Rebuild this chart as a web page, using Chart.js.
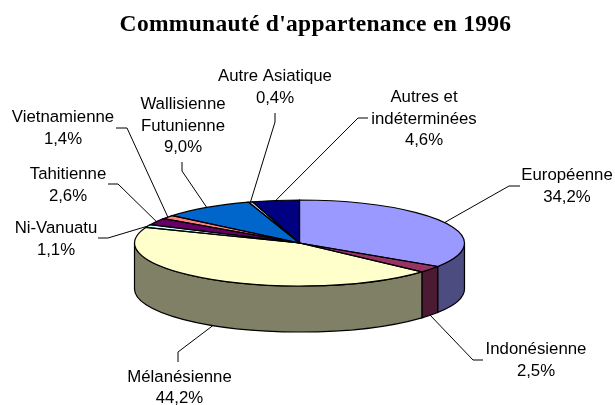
<!DOCTYPE html>
<html>
<head>
<meta charset="utf-8">
<title>Communauté d'appartenance en 1996</title>
<script src="https://cdn.jsdelivr.net/npm/chart.js@4"></script>
<style>
  html, body { margin: 0; padding: 0; background: #fff; }
  #wrap { position: relative; width: 615px; height: 405px; }
</style>
</head>
<body>
<div id="wrap"><canvas id="chart" width="615" height="405"></canvas></div>
<script>
  'use strict';

  const chartTitle = "Communauté d'appartenance en 1996";
  const categories = ['Européenne', 'Indonésienne', 'Mélanésienne', 'Ni-Vanuatu', 'Tahitienne', 'Vietnamienne', 'Wallisienne Futunienne', 'Autre Asiatique', 'Autres et indéterminées'];
  const shares = [34.2, 2.5, 44.2, 1.1, 2.6, 1.4, 9.0, 0.4, 4.6];
  const topColors = ['#9999ff', '#993366', '#ffffcc', '#ccffff', '#660066', '#ff8080', '#0066cc', '#ccccff', '#000080'];
  const wallColors = ['#4c4c80', '#4c1a33', '#808066', '#668080', '#330033', '#804040', '#003366', '#666680', '#000040'];

  // label text lines, layout only
  const labelLines = [
    ['Européenne'], ['Indonésienne'], ['Mélanésienne'], ['Ni-Vanuatu'], ['Tahitienne'], ['Vietnamienne'],
    ['Wallisienne', 'Futunienne'], ['Autre Asiatique'], ['Autres et', 'indéterminées'],
  ];
  // text centre x, first line y, then the leader's two bend points
  const labelPlaces = [
    { x: 567, y: 175.5, bends: [[509, 186], [520, 186]] },
    { x: 536, y: 349.5, bends: [[473, 360], [483, 360]] },
    { x: 179.5, y: 377, bends: [[178, 352], [178, 362]] },
    { x: 56, y: 228.5, bends: [[108, 238], [98, 238]] },
    { x: 68, y: 174.5, bends: [[118, 184], [108, 184]] },
    { x: 63, y: 117.5, bends: [[127, 128], [116, 128]] },
    { x: 183, y: 104.5, bends: [[182, 171], [182, 162]] },
    { x: 275, y: 76.5, bends: [[275, 122], [275, 113]] },
    { x: 424, y: 97.5, bends: [[358, 118], [368, 118]] },
  ];

  const pieRadius = 165;
  const flatten = 43 / 165;
  const wallDepth = 46;
  const labelFont = '16.8px "Liberation Sans"';
  const lineGap = 21.5;

  const pie3d = {
    id: 'pie3d',
    beforeDatasetsDraw(chart) {
      const { ctx } = chart;
      const arcs = chart.getDatasetMeta(0).data;
      const cx = arcs[0].x;
      const cy = arcs[0].y;
      const ry = pieRadius * flatten;
      ctx.save();
      ctx.lineWidth = 1.2;
      ctx.strokeStyle = '#000';
      arcs.forEach((arc, i) => {
        const a = Math.max(arc.startAngle, 0);
        const b = Math.min(arc.endAngle, Math.PI);
        if (b <= a) return;
        ctx.beginPath();
        ctx.ellipse(cx, cy, pieRadius, ry, 0, a, b);
        ctx.ellipse(cx, cy + wallDepth, pieRadius, ry, 0, b, a, true);
        ctx.closePath();
        ctx.fillStyle = wallColors[i];
        ctx.fill();
        ctx.stroke();
      });
      ctx.restore();
      // squash the library's own slices into the top face
      ctx.save();
      ctx.translate(cx, cy);
      ctx.scale(1, flatten);
      ctx.translate(-cx, -cy);
    },
    afterDatasetsDraw(chart) {
      const { ctx } = chart;
      ctx.restore();
      const arcs = chart.getDatasetMeta(0).data;
      const ry = pieRadius * flatten;
      ctx.save();
      ctx.lineWidth = 1.2;
      ctx.strokeStyle = '#000';
      arcs.forEach((arc) => {
        ctx.beginPath();
        ctx.moveTo(arc.x, arc.y);
        ctx.ellipse(arc.x, arc.y, pieRadius, ry, 0, arc.startAngle, arc.endAngle);
        ctx.closePath();
        ctx.stroke();
      });

      // leaders and labels
      ctx.lineWidth = 1;
      ctx.fillStyle = '#000';
      ctx.font = labelFont;
      ctx.textAlign = 'center';
      ctx.textBaseline = 'middle';
      arcs.forEach((arc, i) => {
        const mid = (arc.startAngle + arc.endAngle) / 2;
        const sx = arc.x + pieRadius * Math.cos(mid);
        let sy = arc.y + ry * Math.sin(mid);
        if (Math.sin(mid) > 0) sy += wallDepth;
        const place = labelPlaces[i];
        ctx.beginPath();
        ctx.moveTo(sx, sy);
        place.bends.forEach(([x, y]) => ctx.lineTo(x, y));
        ctx.stroke();
        const lines = labelLines[i].concat(shares[i].toFixed(1).replace('.', ',') + '%');
        lines.forEach((line, n) => ctx.fillText(line, place.x, place.y + n * lineGap));
      });

      ctx.font = 'bold 23.5px "Liberation Serif"';
      ctx.letterSpacing = '0.3px';
      ctx.textBaseline = 'alphabetic';
      ctx.fillText(chartTitle, 315.5, 31);
      ctx.restore();
    },
  };

  new Chart(document.getElementById('chart'), {
    type: 'pie',
    data: {
      labels: categories,
      datasets: [{
        data: shares,
        backgroundColor: topColors,
        borderWidth: 0,
        clip: false,
        radius: pieRadius,
      }],
    },
    options: {
      responsive: false,
      animation: false,
      layout: { padding: { top: 81, right: 16 } },
      plugins: { legend: { display: false }, title: { display: false }, tooltip: { enabled: false } },
    },
    plugins: [pie3d],
  });
</script>
</body>
</html>
